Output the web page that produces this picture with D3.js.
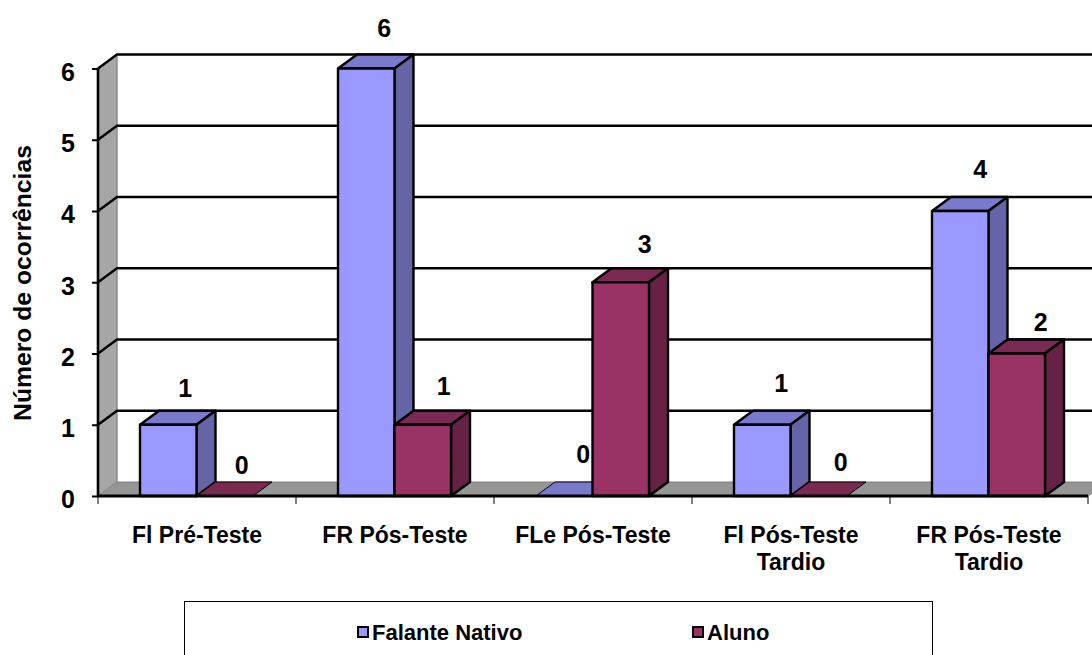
<!DOCTYPE html>
<html><head><meta charset="utf-8">
<script src="https://cdn.jsdelivr.net/npm/d3@7"></script>
<style>
html,body{margin:0;padding:0;background:#fff;overflow:hidden}
text{font-family:"Liberation Sans",Arial,sans-serif;font-weight:bold;fill:#000}
</style></head><body>
<svg id="chart" width="1092" height="655"></svg>
<script>
const categories = [["Fl Pré-Teste"],["FR Pós-Teste"],["FLe Pós-Teste"],["Fl Pós-Teste","Tardio"],["FR Pós-Teste","Tardio"]];
const seriesNames = ["Falante Nativo","Aluno"];
const falanteNativo = [1,6,0,1,4];
const aluno = [0,1,3,0,2];
const yTicks = [0,1,2,3,4,5,6];

const colours = {
  "Falante Nativo": {front:"#9999ff", top:"#7a7acc", side:"#6464a6"},
  "Aluno": {front:"#993366", top:"#7a2952", side:"#662244"}
};
const depth = {x:19, y:-14};
// Hand placement of the value labels relative to each bar's top centre
const labelShiftX = [17,17, 18,21, 19,24, 19,22, 20,24];
const labelLiftY  = [37,31, 41,39, 42,38, 42,34, 42,32];

const svg = d3.select("#chart");
const keys = categories.map(c => c.join(" "));
const x = d3.scaleBand().domain(keys).range([98,1088]);
const inner = d3.scaleBand().domain(seriesNames).range([42,155]);
const y = d3.scaleLinear().domain([0,6]).range([496,68.5]);
const pts = a => a.map(p => p.join(",")).join(" ");
const y0 = y(0), yTop = y(6), xL = x.range()[0], xR = x.range()[1];

// Side wall, back wall edge and floor of the 3D box
svg.append("polygon").attr("points", pts([[xL,yTop],[xL+depth.x,yTop+depth.y],[xL+depth.x,y0+depth.y],[xL,y0]]))
  .attr("fill","#a6a6a6");
svg.append("line").attr("x1",xL+depth.x).attr("x2",xL+depth.x).attr("y1",yTop+depth.y).attr("y2",y0+depth.y)
  .attr("stroke","#8c8c8c").attr("stroke-width",1.5);
svg.append("polygon").attr("points", pts([[xL,y0],[xL+depth.x,y0+depth.y],[xR+depth.x,y0+depth.y],[xR,y0]]))
  .attr("fill","#969696").attr("stroke","#7f7f7f").attr("stroke-width",1);

// Gridlines run along the wall and across the back
svg.append("g").selectAll("polyline").data(yTicks.slice(1)).join("polyline")
  .attr("points", d => pts([[xL,y(d)],[xL+depth.x,y(d)+depth.y],[xR+depth.x,y(d)+depth.y]]))
  .attr("fill","none").attr("stroke","#000").attr("stroke-width",2.4);

// Bars: zero values still show their top face
const rows = categories.map((c,i) => seriesNames.map((s,j) => ({
  key:keys[i], series:s, value:[falanteNativo,aluno][j][i]
}))).flat();
const bars = svg.append("g").selectAll("g").data(rows).join("g")
  .attr("stroke","#000").attr("stroke-width",2.4).attr("stroke-linejoin","round");
bars.each(function(d){
  const g = d3.select(this), c = colours[d.series];
  const l = x(d.key)+inner(d.series), r = l+inner.bandwidth(), t = y(d.value);
  const top = g.append("polygon").attr("points",pts([[l,t],[l+depth.x,t+depth.y],[r+depth.x,t+depth.y],[r,t]])).attr("fill",c.top);
  if(d.value>0){
    g.append("polygon").attr("points",pts([[r,t],[r+depth.x,t+depth.y],[r+depth.x,y0+depth.y],[r,y0]])).attr("fill",c.side);
    g.append("rect").attr("x",l).attr("y",t).attr("width",r-l).attr("height",y0-t).attr("fill",c.front);
  } else {
    top.attr("stroke-width",1);
  }
});

// Value labels above each bar
svg.append("g").selectAll("text").data(rows).join("text")
  .attr("x", (d,i) => x(d.key)+inner(d.series)+inner.bandwidth()/2+labelShiftX[i])
  .attr("y", (d,i) => y(d.value)-labelLiftY[i]+9)
  .attr("text-anchor","middle").attr("font-size",25).text(d => d.value);

// Axes
const yAxis = svg.append("g").attr("transform",`translate(${xL},0)`)
  .call(d3.axisLeft(y).tickValues(yTicks).tickSize(6).tickPadding(17).tickFormat(d3.format("d")));
yAxis.selectAll("text").attr("font-size",25).attr("dy","0.47em");
yAxis.selectAll("line,path").attr("stroke","#000").attr("stroke-width",2);
yAxis.select("path").attr("d",`M0,${yTop}V${y0}`).attr("stroke-width",2.6);

const xAxis = svg.append("g").attr("transform",`translate(0,${y0})`)
  .call(d3.axisBottom(x).tickValues([]).tickSizeOuter(0));
xAxis.select("path").attr("d",`M${xL},0H${xR}`).attr("stroke","#000").attr("stroke-width",2.8);
xAxis.selectAll("line.sep").data(d3.range(keys.length+1)).join("line").attr("class","sep")
  .attr("x1",i => xL+i*x.step()).attr("x2",i => xL+i*x.step()).attr("y1",0).attr("y2",8)
  .attr("stroke","#000").attr("stroke-width",1);
const catLabels = xAxis.selectAll("text.cat").data(categories).join("text").attr("class","cat")
  .attr("x",(c,i) => x(keys[i])+x.bandwidth()/2).attr("y",47)
  .attr("text-anchor","middle").attr("font-size",23);
catLabels.selectAll("tspan").data(c => c).join("tspan")
  .attr("x",function(){return this.parentNode.getAttribute("x");})
  .attr("dy",(d,i) => i ? 27 : 0).text(d => d);

svg.append("text").attr("transform","translate(31,283) rotate(-90)")
  .attr("text-anchor","middle").attr("font-size",24.7).text("Número de ocorrências");

// Legend
svg.append("rect").attr("x",184.5).attr("y",601.5).attr("width",748).attr("height",70)
  .attr("fill","#fff").attr("stroke","#000").attr("stroke-width",1);
const legendX = d3.scaleOrdinal().domain(seriesNames).range([358,693]);
const leg = svg.append("g").selectAll("g").data(seriesNames).join("g")
  .attr("transform",d => `translate(${legendX(d)},627)`);
leg.append("rect").attr("width",10).attr("height",10).attr("fill",d => colours[d].front)
  .attr("stroke","#000").attr("stroke-width",2);
leg.append("text").attr("x",14).attr("y",13).attr("font-size",22).text(d => d);
</script>
</body></html>
